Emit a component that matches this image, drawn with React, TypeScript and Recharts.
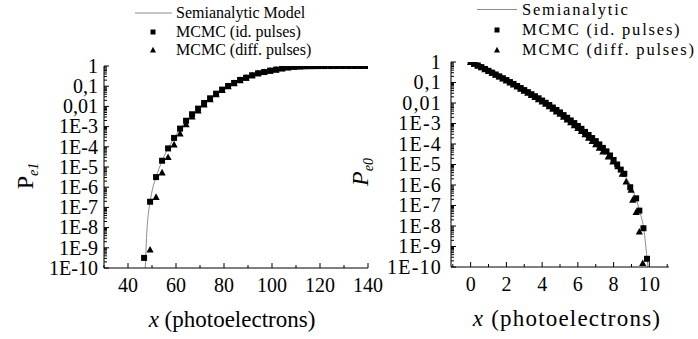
import React from 'react';
import { ComposedChart, Line, Scatter, XAxis, YAxis } from 'recharts';

const FONT = 'Liberation Serif, Times New Roman, serif';

// ---------- tick labels ----------
const yMajorExps = [0, -1, -2, -3, -4, -5, -6, -7, -8, -9, -10];
const yMajorLabels = ['1', '0,1', '0,01', '1E-3', '1E-4', '1E-5', '1E-6', '1E-7', '1E-8', '1E-9', '1E-10'];
const yMinorMultipliers = [2, 3, 4, 5, 6, 7, 8, 9];

const leftXTicks = [30, 40, 50, 60, 70, 80, 90, 100, 110, 120, 130, 140];
const leftXLabels = ['', '40', '', '60', '', '80', '', '100', '', '120', '', '140'];
const rightXTicks = [-1, 0, 1, 2, 3, 4, 5, 6, 7, 8, 9, 10, 11];
const rightXLabels = ['', '0', '', '2', '', '4', '', '6', '', '8', '', '10', ''];

// ---------- left panel (P_e1), values given as log10(P) ----------
const leftIdX = [46.7, 49.2, 51.7, 54.2, 56.7, 59.2, 61.7, 64.2, 66.7, 69.2, 71.7, 74.2, 76.7, 79.2, 81.7, 84.2, 86.7, 89.2, 91.7, 94.2, 96.7, 99.2, 101.7, 104.2, 106.7, 109.2, 111.7, 114.2, 116.7, 119.2, 121.7, 124.2, 126.7, 129.2, 131.7, 134.2, 136.7, 139.2];
const leftIdLog = [-9.5, -6.72, -5.5, -4.69, -4.08, -3.56, -3.1, -2.71, -2.39, -2.11, -1.83, -1.6, -1.37, -1.17, -0.99, -0.84, -0.69, -0.58, -0.46, -0.36, -0.3, -0.23, -0.18, -0.12, -0.07, -0.04, -0.025, -0.015, -0.01, -0.006, -0.004, -0.003, -0.002, -0.001, -0.001, 0, 0, 0];
const leftDiffX = [49.2, 51.7, 54.2, 56.7, 59.2, 61.7, 64.2, 66.7, 69.2, 71.7, 74.2, 76.7, 79.2, 81.7, 84.2, 86.7, 89.2, 91.7, 94.2, 96.7, 99.2, 101.7, 104.2, 106.7, 109.2, 111.7, 114.2, 116.7, 119.2];
const leftDiffLog = [-9.1, -6.49, -5.28, -4.52, -3.89, -3.35, -2.89, -2.51, -2.21, -1.92, -1.66, -1.41, -1.2, -1.01, -0.86, -0.71, -0.59, -0.47, -0.37, -0.31, -0.24, -0.18, -0.12, -0.07, -0.04, -0.025, -0.015, -0.01, -0.006];
const leftModelX = [47.2, 47.9, 48.5, 49.2, 50.4, 51.7, 54.2, 56.7, 59.2, 61.7, 64.2, 66.7, 69.2, 71.7, 74.2, 76.7, 79.2, 81.7, 84.2, 86.7, 89.2, 91.7, 94.2, 96.7, 99.2, 101.7, 104.2, 106.7, 109.2, 111.7, 116.7, 121.7, 129.2, 140];
const leftModelLog = [-10, -8.1, -7.3, -6.72, -6.0, -5.5, -4.69, -4.08, -3.56, -3.1, -2.71, -2.39, -2.11, -1.83, -1.6, -1.37, -1.17, -0.99, -0.84, -0.69, -0.58, -0.46, -0.36, -0.3, -0.23, -0.18, -0.12, -0.07, -0.04, -0.025, -0.01, -0.004, -0.001, 0];

// ---------- right panel (P_e0), values given as log10(P) ----------
const rightIdX = [0, 0.2, 0.4, 0.6, 0.8, 1.0, 1.2, 1.4, 1.6, 1.8, 2.0, 2.2, 2.4, 2.6, 2.8, 3.0, 3.2, 3.4, 3.6, 3.8, 4.0, 4.2, 4.4, 4.6, 4.8, 5.0, 5.2, 5.4, 5.6, 5.8, 6.0, 6.2, 6.4, 6.6, 6.8, 7.0, 7.2, 7.4, 7.6, 7.8, 8.0, 8.2, 8.4, 8.6, 8.93, 9.26, 9.44, 9.67, 9.87];
const rightIdLog = [0, -0.08, -0.17, -0.25, -0.34, -0.43, -0.52, -0.61, -0.7, -0.79, -0.88, -0.98, -1.07, -1.17, -1.27, -1.37, -1.47, -1.57, -1.67, -1.77, -1.88, -1.99, -2.1, -2.22, -2.34, -2.46, -2.59, -2.72, -2.85, -2.98, -3.12, -3.26, -3.41, -3.56, -3.71, -3.86, -4.02, -4.19, -4.36, -4.56, -4.78, -5.0, -5.25, -5.45, -6.11, -6.65, -7.25, -8.11, -9.6];
const rightDiffX = [0, 0.2, 0.4, 0.6, 0.8, 1.0, 1.2, 1.4, 1.6, 1.8, 2.0, 2.2, 2.4, 2.6, 2.8, 3.0, 3.2, 3.4, 3.6, 3.8, 4.0, 4.2, 4.4, 4.6, 4.8, 5.0, 5.2, 5.4, 5.6, 5.8, 6.0, 6.2, 6.4, 6.6, 6.8, 7.0, 7.2, 7.4, 7.7, 7.96, 8.24, 8.48, 8.7, 8.98, 9.07, 9.26, 9.44, 9.63];
const rightDiffLog = [-0.01, -0.09, -0.18, -0.27, -0.36, -0.45, -0.54, -0.63, -0.72, -0.82, -0.91, -1.01, -1.11, -1.21, -1.31, -1.41, -1.51, -1.62, -1.72, -1.83, -1.94, -2.05, -2.17, -2.29, -2.42, -2.54, -2.68, -2.81, -2.95, -3.09, -3.23, -3.38, -3.54, -3.7, -3.86, -4.02, -4.19, -4.37, -4.62, -4.86, -5.1, -5.46, -5.84, -6.24, -6.73, -7.33, -8.28, -9.82];
const rightModelX = [0, 0.5, 1, 1.5, 2, 2.5, 3, 3.5, 4, 4.5, 5, 5.5, 6, 6.5, 7, 7.5, 8, 8.5, 9, 9.3, 9.5, 9.7, 9.85, 9.92];
const rightModelLog = [0, -0.21, -0.43, -0.65, -0.88, -1.12, -1.37, -1.62, -1.88, -2.16, -2.46, -2.78, -3.12, -3.48, -3.86, -4.28, -4.78, -5.38, -6.12, -6.8, -7.4, -8.2, -9.4, -10];

const toRows = (xs: number[], logs: number[]) => xs.map((x, i) => ({ x, y: Math.pow(10, logs[i]) }));

const leftId = toRows(leftIdX, leftIdLog);
const leftDiff = toRows(leftDiffX, leftDiffLog);
const leftModel = toRows(leftModelX, leftModelLog);
const rightId = toRows(rightIdX, rightIdLog);
const rightDiff = toRows(rightDiffX, rightDiffLog);
const rightModel = toRows(rightModelX, rightModelLog);

const yTicks: number[] = [];
yMajorExps.forEach((e) => {
  yTicks.push(Math.pow(10, e));
  if (e < 0) yMinorMultipliers.forEach((m) => yTicks.push(m * Math.pow(10, e)));
});

const majorLabelFor = (v: number) => {
  const e = Math.log10(v);
  const r = Math.round(e);
  if (Math.abs(e - r) < 1e-6) {
    const idx = yMajorExps.indexOf(r);
    return idx >= 0 ? yMajorLabels[idx] : null;
  }
  return null;
};

const txt = (size: number, spacing: number, extra: any = {}) => ({ fontFamily: FONT, fontSize: size, letterSpacing: `${spacing}px`, ...extra });

const makeYTick = (gap: number, spacing: number) => (props: any) => {
  const { x, y, payload } = props;
  const label = majorLabelFor(payload.value);
  const major = label !== null;
  return (
    <g>
      <line x1={x} x2={x + (major ? 5 : 3)} y1={y} y2={y} stroke="#000" strokeWidth={1} />
      {major && (
        <text x={x - gap} y={y} dy="0.34em" textAnchor="end" style={txt(20, spacing)} fill="#000">
          {label}
        </text>
      )}
    </g>
  );
};

const makeXTick = (ticks: number[], labels: string[], spacing: number) => (props: any) => {
  const { x, y, payload } = props;
  const idx = ticks.indexOf(payload.value);
  const label = idx >= 0 ? labels[idx] : '';
  const major = label !== '';
  return (
    <g>
      <line x1={x} x2={x} y1={y} y2={y - (major ? 5 : 3)} stroke="#000" strokeWidth={1} />
      {major && (
        <text x={x + spacing / 2} y={y + 24} textAnchor="middle" style={txt(20, spacing)} fill="#000">
          {label}
        </text>
      )}
    </g>
  );
};

const Square = (props: any) => {
  const { cx, cy } = props;
  if (cx == null || cy == null) return null;
  return <rect x={cx - 3} y={cy - 3} width={6} height={6} fill="#000" />;
};
const Triangle = (props: any) => {
  const { cx, cy } = props;
  if (cx == null || cy == null) return null;
  return <path d={`M${cx},${cy - 3.8} L${cx + 3.6},${cy + 2.8} L${cx - 3.6},${cy + 2.8} Z`} fill="#000" />;
};

const xTitle = (dx: number, spacing: number) => (props: any) => {
  const vb = props.viewBox || {};
  return (
    <text x={vb.x + vb.width / 2 + dx} y={vb.y + 59} textAnchor="middle" style={txt(23, spacing)} fill="#000">
      <tspan fontStyle="italic">x</tspan>
      <tspan> (photoelectrons)</tspan>
    </text>
  );
};

const yTitle = (cx: number, cy: number, sub: string, italicP: boolean) => () => (
  <text transform={`translate(${cx},${cy}) rotate(-90)`} textAnchor="middle" style={{ fontFamily: FONT }} fill="#000">
    <tspan fontSize={24} fontStyle={italicP ? 'italic' : 'normal'}>P</tspan>
    <tspan fontSize={14} dy={5} fontStyle="italic">{sub}</tspan>
  </text>
);

const legendTexts = ['Semianalytic Model', 'MCMC (id. pulses)', 'MCMC (diff. pulses)'];
const legendTextsRight = ['Semianalytic', 'MCMC (id. pulses)', 'MCMC (diff. pulses)'];

const LegendBlock = ({ lineFrom, lineTo, markerX, textX, rows, spacing, size, texts }: any) => (
  <svg style={{ position: 'absolute', left: 0, top: 0, overflow: 'visible' }} width={1} height={1}>
    <line x1={lineFrom} x2={lineTo} y1={rows[0]} y2={rows[0]} stroke="#8c8c8c" strokeWidth={1} />
    <rect x={markerX - 2.5} y={rows[1] - 2.5} width={5} height={5} fill="#000" />
    <path d={`M${markerX},${rows[2] - 3.2} L${markerX + 3},${rows[2] + 2.4} L${markerX - 3},${rows[2] + 2.4} Z`} fill="#000" />
    {[0, 1, 2].map((i) => (
      <text key={i} x={textX} y={rows[i]} dy="0.33em" style={txt(size, spacing)} fill="#000">
        {texts[i]}
      </text>
    ))}
  </svg>
);

export default function App() {
  return (
    <div style={{ position: 'absolute', left: 0, top: 0, width: 698, height: 339, background: '#fff', overflow: 'hidden', fontFamily: FONT }}>
      <div style={{ position: 'absolute', left: 0, top: 0 }}>
        <ComposedChart width={400} height={339} margin={{ top: 66, right: 32, bottom: 30, left: 0 }} style={{ overflow: 'visible' }}>
          <XAxis
            type="number"
            dataKey="x"
            domain={[30, 140]}
            ticks={leftXTicks}
            interval={0}
            allowDataOverflow
            height={41}
            tickSize={0}
            tickMargin={0}
            tickLine={false}
            axisLine={{ stroke: '#000', strokeWidth: 1 }}
            tick={makeXTick(leftXTicks, leftXLabels, 0)}
            label={{ content: xTitle(-4, 0) }}
          />
          <YAxis
            type="number"
            dataKey="y"
            scale="log"
            domain={[1e-10, 1]}
            ticks={yTicks}
            interval={0}
            allowDataOverflow
            width={104}
            tickSize={0}
            tickMargin={0}
            tickLine={false}
            axisLine={{ stroke: '#000', strokeWidth: 1 }}
            tick={makeYTick(6, 0)}
            label={{ content: yTitle(33, 176, 'e1', false) }}
          />
          <Line data={leftModel} dataKey="y" type="monotone" stroke="#8c8c8c" strokeWidth={1} dot={false} isAnimationActive={false} />
          <Scatter data={leftDiff} dataKey="y" shape={<Triangle />} isAnimationActive={false} />
          <Scatter data={leftId} dataKey="y" shape={<Square />} isAnimationActive={false} />
        </ComposedChart>
      </div>
      <div style={{ position: 'absolute', left: 340, top: 0 }}>
        <ComposedChart width={358} height={339} margin={{ top: 62, right: 29, bottom: 31, left: 0 }} style={{ overflow: 'visible' }}>
          <XAxis
            type="number"
            dataKey="x"
            domain={[-1.1, 11.1]}
            ticks={rightXTicks}
            interval={0}
            allowDataOverflow
            height={41}
            tickSize={0}
            tickMargin={0}
            tickLine={false}
            axisLine={{ stroke: '#000', strokeWidth: 1 }}
            tick={makeXTick(rightXTicks, rightXLabels, 1.2)}
            label={{ content: xTitle(7, 1.2) }}
          />
          <YAxis
            type="number"
            dataKey="y"
            scale="log"
            domain={[1e-10, 1]}
            ticks={yTicks}
            interval={0}
            allowDataOverflow
            width={111}
            tickSize={0}
            tickMargin={0}
            tickLine={false}
            axisLine={{ stroke: '#000', strokeWidth: 1 }}
            tick={makeYTick(9, 1.2)}
            label={{ content: yTitle(28, 172, 'e0', true) }}
          />
          <Line data={rightModel} dataKey="y" type="monotone" stroke="#8c8c8c" strokeWidth={1} dot={false} isAnimationActive={false} />
          <Scatter data={rightDiff} dataKey="y" shape={<Triangle />} isAnimationActive={false} />
          <Scatter data={rightId} dataKey="y" shape={<Square />} isAnimationActive={false} />
        </ComposedChart>
      </div>
      <LegendBlock lineFrom={135} lineTo={172} markerX={153} textX={176} rows={[13, 32, 50]} spacing={0} size={16} texts={legendTexts} />
      <LegendBlock lineFrom={477} lineTo={517} markerX={497} textX={522} rows={[9.5, 30, 50]} spacing={1.8} size={16.5} texts={legendTextsRight} />
    </div>
  );
}
